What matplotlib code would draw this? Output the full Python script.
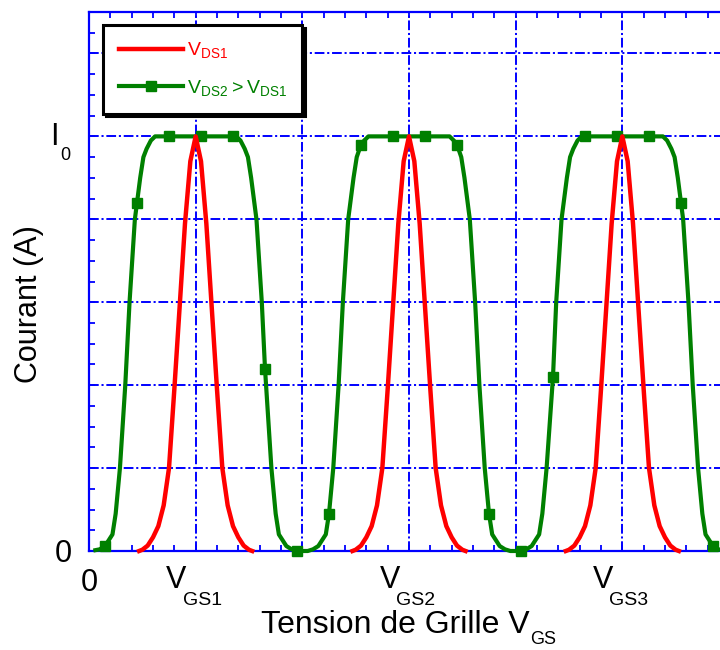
import numpy as np
import matplotlib.pyplot as plt
from matplotlib.ticker import MultipleLocator

plt.rcParams['font.family'] = ['Liberation Sans', 'DejaVu Sans']
plt.rcParams['mathtext.fontset'] = 'custom'
plt.rcParams['mathtext.rm'] = 'Liberation Sans'
plt.rcParams['lines.scale_dashes'] = False

# V_DS1 : trois pics etroits (nan = coupure entre les pics)
red_x = [0.47, 0.50, 0.55, 0.60, 0.65, 0.70, 0.75, 0.80, 0.85, 0.90, 0.95, 1.00,
         1.05, 1.10, 1.15, 1.20, 1.25, 1.30, 1.35, 1.40, 1.45, 1.50, 1.53, np.nan,
         2.47, 2.50, 2.55, 2.60, 2.65, 2.70, 2.75, 2.80, 2.85, 2.90, 2.95, 3.00,
         3.05, 3.10, 3.15, 3.20, 3.25, 3.30, 3.35, 3.40, 3.45, 3.50, 3.53, np.nan,
         4.47, 4.50, 4.55, 4.60, 4.65, 4.70, 4.75, 4.80, 4.85, 4.90, 4.95, 5.00,
         5.05, 5.10, 5.15, 5.20, 5.25, 5.30, 5.35, 5.40, 5.45, 5.50, 5.53]
red_y = [0, 0.003, 0.013, 0.033, 0.06, 0.11, 0.20, 0.39, 0.59, 0.79, 0.94, 1.0,
         0.94, 0.79, 0.59, 0.39, 0.20, 0.11, 0.06, 0.033, 0.013, 0.003, 0, np.nan,
         0, 0.003, 0.013, 0.033, 0.06, 0.11, 0.20, 0.39, 0.59, 0.79, 0.94, 1.0,
         0.94, 0.79, 0.59, 0.39, 0.20, 0.11, 0.06, 0.033, 0.013, 0.003, 0, np.nan,
         0, 0.003, 0.013, 0.033, 0.06, 0.11, 0.20, 0.39, 0.59, 0.79, 0.94, 1.0,
         0.94, 0.79, 0.59, 0.39, 0.20, 0.11, 0.06, 0.033, 0.013, 0.003, 0]

# V_DS2 > V_DS1 : pics larges a plateau
green_x = [0.06, 0.10, 0.15, 0.22, 0.25, 0.29, 0.34, 0.38, 0.43, 0.45, 0.48, 0.51,
           0.54, 0.58, 0.62, 0.75, 1.05, 1.35, 1.38, 1.42, 1.46, 1.49, 1.52, 1.57,
           1.62, 1.65, 1.71, 1.75, 1.78, 1.85, 1.90, 1.95, 2.05,
           2.10, 2.15, 2.22, 2.25, 2.29, 2.34, 2.38, 2.43, 2.48, 2.51, 2.55, 2.58,
           2.62, 2.85, 3.15, 3.38, 3.42, 3.45, 3.49, 3.52, 3.57, 3.62, 3.66, 3.71,
           3.75, 3.78, 3.85, 3.90, 3.95, 4.05,
           4.10, 4.15, 4.22, 4.25, 4.29, 4.35, 4.38, 4.43, 4.48, 4.51, 4.54, 4.58,
           4.62, 4.65, 4.95, 5.25, 5.38, 5.42, 5.46, 5.49, 5.52, 5.55, 5.57, 5.62,
           5.66, 5.71, 5.75, 5.78, 5.85, 5.90, 6.00]
green_y = [0.002, 0.004, 0.012, 0.04, 0.09, 0.20, 0.40, 0.60, 0.80, 0.84, 0.90, 0.95,
           0.97, 0.99, 1.0, 1.0, 1.0, 1.0, 1.0, 0.99, 0.97, 0.95, 0.90, 0.80,
           0.60, 0.44, 0.20, 0.09, 0.04, 0.012, 0.004, 0.0, 0.0,
           0.004, 0.012, 0.04, 0.09, 0.20, 0.40, 0.60, 0.80, 0.90, 0.95, 0.98, 0.99,
           1.0, 1.0, 1.0, 1.0, 0.99, 0.98, 0.95, 0.90, 0.80, 0.60, 0.40, 0.20,
           0.09, 0.04, 0.012, 0.004, 0.0, 0.0,
           0.004, 0.012, 0.04, 0.09, 0.20, 0.42, 0.60, 0.80, 0.90, 0.95, 0.97, 0.99,
           1.0, 1.0, 1.0, 1.0, 1.0, 0.99, 0.97, 0.95, 0.90, 0.84, 0.80, 0.60,
           0.40, 0.20, 0.09, 0.04, 0.012, 0.004, 0.0]

# symboles carres de la courbe verte
mark_x = [0.15, 0.45, 0.75, 1.05, 1.35, 1.65, 1.95, 2.25, 2.55, 2.85,
          3.15, 3.45, 3.75, 4.05, 4.35, 4.65, 4.95, 5.25, 5.55, 5.85]
mark_y = [0.012, 0.84, 1.0, 1.0, 1.0, 0.44, 0.0, 0.09, 0.98, 1.0,
          1.0, 0.98, 0.09, 0.0, 0.42, 1.0, 1.0, 1.0, 0.84, 0.012]

x_ticks = [0, 1, 2, 3, 4, 5, 6]
y_ticks = [0, 0.2, 0.4, 0.6, 0.8, 1.0, 1.2]
gs_pos = [1, 3, 5]
gs_sub = ['GS1', 'GS2', 'GS3']

px = 0.72  # 1 pixel en points (dpi 100)

fig = plt.figure(figsize=(7.2, 6.5), dpi=100)
ax = fig.add_axes([89/720, 99/650, 640/720, 539/650])

ax.grid(True, which='major', color='blue', lw=1.4, linestyle=(0, (7, 2, 1.5, 2)))
ax.set_axisbelow(True)

gl, = ax.plot(green_x, green_y, color='#008000', lw=3, clip_on=False, zorder=3)
gm, = ax.plot(mark_x, mark_y, 's', color='#008000', ms=7.5, clip_on=False, zorder=3)
rl, = ax.plot(red_x, red_y, color='red', lw=3.2, clip_on=False, zorder=4)

ax.set_xlim(0, 6)
ax.set_ylim(0, 1.3)
ax.set_xticks(x_ticks)
ax.set_xticklabels(['0', '', '', '', '', '', ''])
ax.set_yticks(y_ticks)
ax.set_yticklabels(['0', '', '', '', '', '', ''])
ax.xaxis.set_minor_locator(MultipleLocator(0.2))
ax.yaxis.set_minor_locator(MultipleLocator(0.05))
ax.tick_params(which='both', direction='in', top=True, right=True,
               color='blue', width=1.3, length=4)
ax.tick_params(labelsize=22, pad=12)
for s in ax.spines.values():
    s.set_color('blue')
    s.set_linewidth(1.6)

# etiquettes avec indices
xt = ax.get_xaxis_transform()
for p, s in zip(gs_pos, gs_sub):
    ax.annotate('V', xy=(p, 0), xycoords=xt, xytext=(-9*px, -37*px),
                textcoords='offset points', ha='right', va='baseline',
                fontsize=22, annotation_clip=False)
    ax.annotate(s, xy=(p, 0), xycoords=xt, xytext=(-13*px, -54*px),
                textcoords='offset points', ha='left', va='baseline',
                fontsize=14, annotation_clip=False)

yt = ax.get_yaxis_transform()
ax.annotate('I', xy=(0, 1.0), xycoords=yt, xytext=(-30*px, -9*px),
            textcoords='offset points', ha='right', va='baseline',
            fontsize=22, annotation_clip=False)
ax.annotate('0', xy=(0, 1.0), xycoords=yt, xytext=(-29*px, -24*px),
            textcoords='offset points', ha='left', va='baseline',
            fontsize=13, annotation_clip=False)

ax.annotate('Tension de Grille V', xy=(0.689, -0.152), xycoords='axes fraction',
            ha='right', va='baseline', fontsize=23, annotation_clip=False)
ax.annotate('GS', xy=(0.689, -0.1725), xycoords='axes fraction',
            ha='left', va='baseline', fontsize=13, annotation_clip=False)

ax.set_ylabel('Courant (A)', fontsize=22)
ax.yaxis.set_label_coords(-0.071, 0.458)

leg = ax.legend([rl, (gl, gm)],
                [r'$\mathregular{V_{DS1}}$', r'$\mathregular{V_{DS2} > V_{DS1}}$'],
                loc='upper left', bbox_to_anchor=(0.022, 0.976), borderaxespad=0,
                fontsize=14, fancybox=False, framealpha=1,
                shadow={'color': 'black', 'alpha': 1},
                handlelength=3.3, handletextpad=0.2, borderpad=0.8, labelspacing=0.9)
leg.get_frame().set_edgecolor('black')
leg.get_frame().set_linewidth(2.2)
for t, c in zip(leg.get_texts(), ['red', '#008000']):
    t.set_color(c)

fig.savefig('out.png', dpi=100)
